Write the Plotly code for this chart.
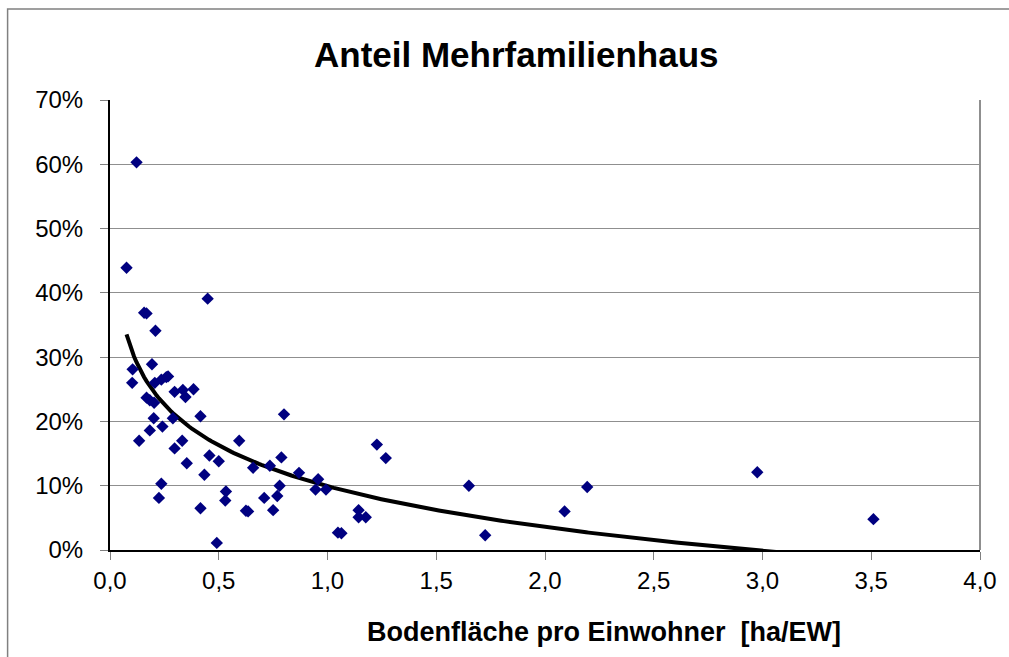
import numpy as np
import plotly.graph_objects as go

# Bodenfläche pro Einwohner [ha/EW]
flaeche = [
    0.122, 0.076, 0.449, 0.157, 0.168, 0.209, 0.104, 0.193, 0.102, 0.206,
    0.236, 0.259, 0.267, 0.297, 0.335, 0.384, 0.347, 0.168, 0.183, 0.203,
    0.416, 0.201, 0.289, 0.800, 0.241, 0.183, 0.134, 0.332, 0.297, 0.594,
    0.457, 0.500, 0.353, 0.788, 0.658, 0.735, 0.869, 0.434, 0.957, 0.945,
    0.993, 0.236, 0.225, 0.780, 0.769, 0.709, 0.533, 0.530, 0.416, 0.625,
    0.635, 0.750, 0.491, 1.048, 1.064, 1.227, 1.268, 1.143, 1.143, 1.176,
    1.650, 1.725, 2.090, 2.194, 2.976, 3.510,
]
# Anteil Mehrfamilienhaus
anteil_mfh = [
    0.603, 0.439, 0.391, 0.369, 0.368, 0.341, 0.281, 0.289, 0.260, 0.260,
    0.265, 0.269, 0.270, 0.246, 0.249, 0.250, 0.238, 0.237, 0.233, 0.229,
    0.208, 0.205, 0.205, 0.211, 0.192, 0.186, 0.170, 0.170, 0.158, 0.170,
    0.147, 0.138, 0.135, 0.144, 0.128, 0.131, 0.120, 0.117, 0.110, 0.094,
    0.094, 0.103, 0.081, 0.100, 0.084, 0.081, 0.091, 0.077, 0.065, 0.061,
    0.060, 0.062, 0.011, 0.027, 0.026, 0.164, 0.143, 0.062, 0.051, 0.051,
    0.100, 0.023, 0.060, 0.098, 0.121, 0.048,
]

FONT = "Arial, Liberation Sans, sans-serif"
GRID = "#8f8f8f"

# logarithmic trend line (least squares on ln x), like the Excel trendline
x_arr = np.array(flaeche)
a, b = np.polyfit(np.log(x_arr), np.array(anteil_mfh), 1)
trend_x = np.linspace(x_arr.min(), x_arr.max(), 300)
trend_y = a * np.log(trend_x) + b

fig = go.Figure()
fig.add_trace(
    go.Scatter(
        x=trend_x,
        y=trend_y,
        mode="lines",
        line=dict(color="black", width=4),
        hoverinfo="skip",
        showlegend=False,
    )
)
fig.add_trace(
    go.Scatter(
        x=flaeche,
        y=anteil_mfh,
        mode="markers",
        marker=dict(symbol="diamond", size=9.5, color="#000080", line=dict(width=0)),
        showlegend=False,
    )
)

fig.update_layout(
    width=1009,
    height=657,
    margin=dict(l=110, r=24, t=100, b=107),
    paper_bgcolor="white",
    plot_bgcolor="white",
    separators=",.",
    font=dict(family=FONT, size=24, color="black"),
    xaxis=dict(
        range=[0, 4],
        dtick=0.5,
        tickformat=".1f",
        showgrid=False,
        zeroline=False,
        showline=True,
        linecolor="black",
        linewidth=2,
        ticks="outside",
        ticklen=8,
        tickcolor="#808080",
        tickwidth=1,
        tickfont=dict(size=24),
    ),
    yaxis=dict(
        range=[0, 0.7],
        dtick=0.1,
        tickformat=".0%",
        showgrid=True,
        gridcolor=GRID,
        gridwidth=1,
        zeroline=False,
        showline=True,
        linecolor="black",
        linewidth=2,
        ticks="outside",
        ticklen=8,
        tickcolor="#808080",
        tickwidth=1,
        ticklabelstandoff=12,
        tickfont=dict(size=24),
    ),
    shapes=[
        # outer chart border
        dict(type="rect", xref="paper", yref="paper", x0=-0.1177, x1=1.04, y0=-0.26, y1=1.2022,
             line=dict(color="#808080", width=1.5), layer="below"),
        # right plot border
        dict(type="line", xref="paper", yref="paper", x0=1, x1=1, y0=0, y1=1,
             line=dict(color=GRID, width=2)),
    ],
    annotations=[
        dict(text="<b>Anteil Mehrfamilienhaus</b>", xref="paper", yref="paper", x=0.467, y=1.102,
             showarrow=False, xanchor="center", yanchor="middle", font=dict(size=35)),
        dict(text="<b>Bodenfläche pro Einwohner  [ha/EW]</b>", xref="paper", yref="paper",
             x=0.568, y=-0.182, showarrow=False, xanchor="center", yanchor="middle",
             font=dict(size=27)),
    ],
)

fig.write_html(
    "out.html",
    config={"displayModeBar": False},
    post_script="document.body.style.margin='0';",
)
